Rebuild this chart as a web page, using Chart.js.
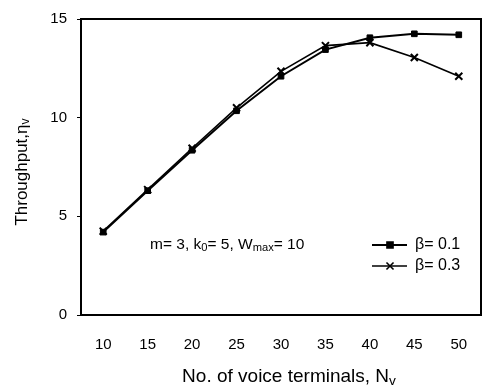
<!DOCTYPE html>
<html>
<head>
<meta charset="utf-8">
<script src="https://cdn.jsdelivr.net/npm/chart.js@4/dist/chart.umd.min.js"></script>
<style>
html, body { margin:0; padding:0; background:#fff; }
</style>
</head>
<body>
<canvas id="throughputChart" width="488" height="392"></canvas>
<script>

/* data */

const terminals = ["10","15","20","25","30","35","40","45","50"];
const beta01 = [4.2, 6.3, 8.35, 10.35, 12.1, 13.45, 14.05, 14.25, 14.2];
const beta03 = [4.25, 6.35, 8.45, 10.5, 12.35, 13.65, 13.8, 13.05, 12.1];
const seriesNames = ["\u03b2= 0.1", "\u03b2= 0.3"];
const yTicks = [0, 5, 10, 15];

const FONT = "'Liberation Sans', Arial, sans-serif";

/* draw text pieces, some as subscripts */
function drawParts(ctx, parts, x, y, size) {
  parts.forEach(p => {
    let s = p.sub ? size * 0.72 : size;
    ctx.font = s + "px " + FONT;
    ctx.fillText(p.t, x, y + (p.sub ? size * 0.22 : 0));
    x += ctx.measureText(p.t).width;
  });
  return x;
}

function partsWidth(ctx, parts, size) {
  let w = 0;
  parts.forEach(p => {
    ctx.font = (p.sub ? size * 0.72 : size) + "px " + FONT;
    w += ctx.measureText(p.t).width;
  });
  return w;
}

/* box, axis titles, note and legend */
const extras = {
  id: "extras",
  afterDraw(chart) {
    const ctx = chart.ctx;
    const a = chart.chartArea;
    ctx.save();
    ctx.strokeStyle = "#000";
    ctx.lineWidth = 2;
    ctx.strokeRect(a.left, a.top, a.right - a.left, a.bottom - a.top);

    ctx.fillStyle = "#000";
    ctx.textBaseline = "middle";

    // x title
    let xt = [{t:"No. of voice terminals, N"},{t:"v",sub:true}];
    let w = partsWidth(ctx, xt, 19);
    drawParts(ctx, xt, 289 - w / 2, 377, 19);

    // y title
    ctx.save();
    ctx.translate(22, 172);
    ctx.rotate(-Math.PI / 2);
    let yt = [{t:"Throughput,\u03b7"},{t:"v",sub:true}];
    w = partsWidth(ctx, yt, 17);
    drawParts(ctx, yt, -w / 2, 0, 17);
    ctx.restore();

    // parameter note
    drawParts(ctx, [{t:"m= 3, k"},{t:"0",sub:true},{t:"= 5, W"},{t:"max",sub:true},{t:"= 10"}], 150, 245, 15.5);

    // legend
    chart.data.datasets.forEach((ds, i) => {
      let y = 245 + i * 21;
      ctx.strokeStyle = "#000";
      ctx.lineWidth = ds.borderWidth;
      ctx.beginPath();
      ctx.moveTo(372, y);
      ctx.lineTo(407, y);
      ctx.stroke();
      Chart.helpers.drawPoint(ctx, {
        pointStyle: ds.pointStyle,
        radius: ds.pointRadius,
        borderWidth: ds.pointBorderWidth
      }, 390, y);
      ctx.font = "16px " + FONT;
      ctx.fillStyle = "#000";
      ctx.fillText(seriesNames[i], 415, y);
    });
    ctx.restore();
  }
};

new Chart(document.getElementById("throughputChart"), {

type: "line",

data: {
labels: terminals,
datasets: [{
label: seriesNames[0],
data: beta01,
borderColor: "#000",
backgroundColor: "#000",
borderWidth: 2,
pointStyle: "rect",
pointRadius: 4,
pointBorderWidth: 1,
pointBackgroundColor: "#000",
pointBorderColor: "#000"
},{
label: seriesNames[1],
data: beta03,
borderColor: "#000",
backgroundColor: "#000",
borderWidth: 1.6,
pointStyle: "crossRot",
pointRadius: 5,
pointBorderWidth: 2,
pointBorderColor: "#000"
}]
},

options: {
responsive: false,
animation: false,
layout: { padding: { left: 0, right: 1, top: 12, bottom: 0 } },
plugins: { legend: { display: false }, tooltip: { enabled: false } },
scales: {
x: {
offset: true,
grid: { display: false, drawOnChartArea: false },
border: { display: false },
ticks: { color: "#000", font: { family: FONT, size: 15 }, padding: 13, maxRotation: 0 },
afterFit(s) { s.height = 77; }
},
y: {
min: 0,
max: 15,
afterBuildTicks(s) { s.ticks = yTicks.map(v => ({ value: v })); },
grid: { drawOnChartArea: false, drawTicks: true, tickLength: 4, color: "#000" },
border: { display: false },
ticks: { color: "#000", font: { family: FONT, size: 15 }, padding: 10 },
afterFit(s) { s.width = 81; }
}
}
},

plugins: [extras]

});

</script>
</body>
</html>
